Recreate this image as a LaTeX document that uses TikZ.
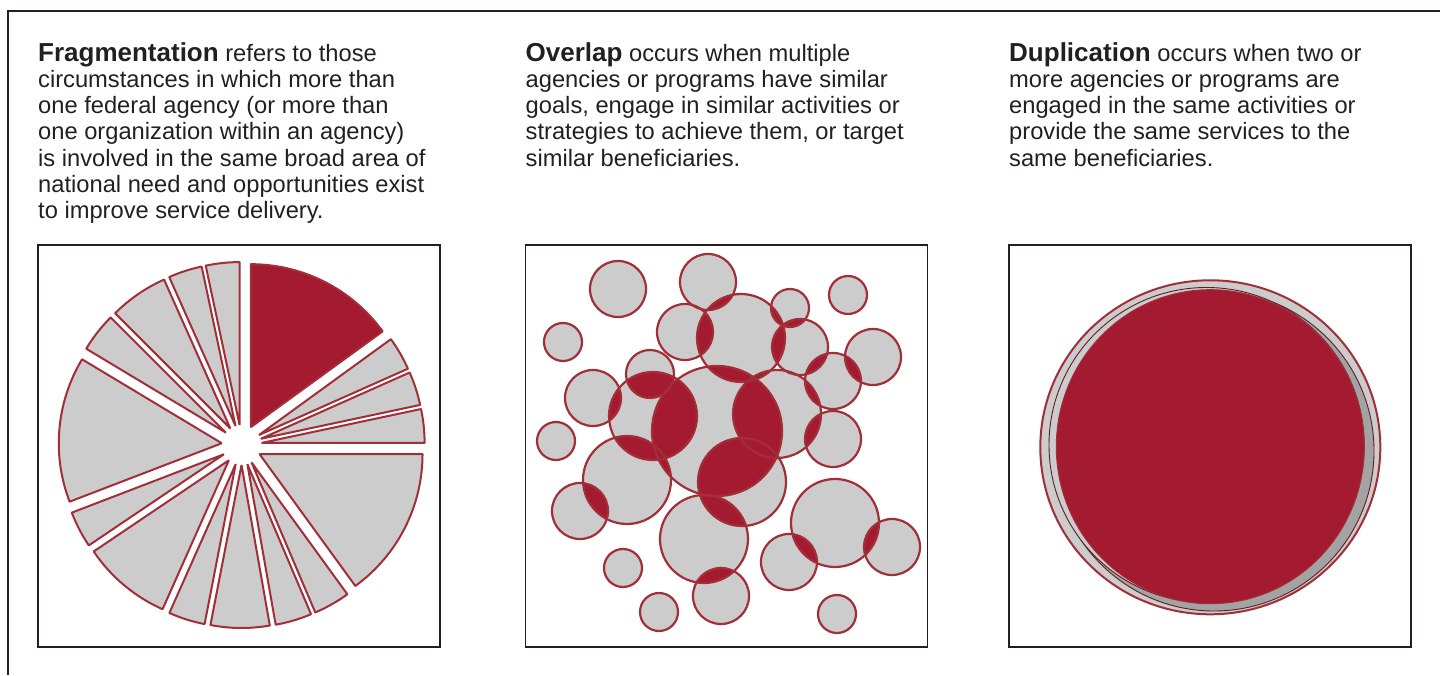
\documentclass[tikz,border=0pt]{standalone}
\usepackage{fontspec}
\setmainfont{Liberation Sans}
\usetikzlibrary{calc, positioning}

\definecolor{gaored}{RGB}{164,26,48}
\definecolor{gaoedge}{RGB}{162,46,56}
\definecolor{slicegrey}{RGB}{204,204,204}
\definecolor{bandgrey}{RGB}{163,163,163}
\definecolor{ink}{RGB}{35,31,32}

\newcommand{\gaoterm}[1]{{\fontsize{26}{26.3}\selectfont\bfseries #1}}

% x/y/radius of the overlapping programs
\def\bubbles{618/386/28, 708/393/28, 848/380/19, 790/367/19, 563/333/19,
  685/343/28, 741/337/44, 800/328/28, 873/318/28, 833/294/28, 650/301/24,
  593/277/28, 653/259/44, 717/244/65, 777/261/44, 833/236/28, 556/234/19,
  627/195/44, 742/193/44, 580/164/28, 704/136/44, 835/152/44, 892/128/28,
  789/113/28, 623/107/19, 721/79/28, 659/63/19, 837/61/19}

\begin{document}
\begin{tikzpicture}[x=1pt,y=1pt,align=left]
\tikzstyle{panel}=[draw=ink,line width=1.3,minimum width=402,minimum height=402,inner sep=0]
\tikzstyle{blurb}=[anchor=north west,inner sep=0,text=ink,font=\fontsize{23.7}{26.3}\selectfont]
\tikzstyle{slice}=[fill=slicegrey,draw=gaoedge,line width=2,line join=bevel]
\tikzstyle{lens}=[fill=gaored]
\tikzstyle{ring}=[draw=gaoedge,line width=2.2]
\tikzstyle{twin}=[draw=gaoedge!60!black,line width=0.9]

\useasboundingbox (0,0) rectangle (1440,675);
\draw[ink,line width=1.5] (1440,664) -- (8,664) -- (8,0);

\node[blurb] (fragtext) at (38,633) {\gaoterm{Fragmentation} refers to those\\
circumstances in which more than\\
one federal agency (or more than\\
one organization within an agency)\\
is involved in the same broad area of\\
national need and opportunities exist\\
to improve service delivery.};
\node[blurb] (overtext) at (525.5,633) {\gaoterm{Overlap} occurs when multiple\\
agencies or programs have similar\\
goals, engage in similar activities or\\
strategies to achieve them, or target\\
similar beneficiaries.};
\node[blurb] (duptext) at (1009,633) {\gaoterm{Duplication} occurs when two or\\
more agencies or programs are\\
engaged in the same activities or\\
provide the same services to the\\
same beneficiaries.};

\node[panel] (fragbox) at (239,229) {};
\node[panel] (overbox) at (726.3,229) {};
\node[panel] (dupbox) at (1210,229) {};

% exploded pie
\coordinate (hub) at (241.7,230);
\foreach \a/\b/\c in {36/90/gaored, 24/36/slicegrey, 12/24/slicegrey, 0/12/slicegrey,
    -54/0/slicegrey, -67/-54/slicegrey, -80/-67/slicegrey, -101/-80/slicegrey,
    -114/-101/slicegrey, -146/-114/slicegrey, -159/-146/slicegrey, 149/201/slicegrey,
    135/149/slicegrey, 114/135/slicegrey, 102/114/slicegrey, 90/102/slicegrey}
  \draw[slice,fill=\c] ($(hub)+({(\a+\b)/2}:20)$) -- ++(\a:163)
    arc[start angle=\a,end angle=\b,radius=163] -- cycle;

% bubbles, their overlaps, then their rims
\foreach \x/\y/\r in \bubbles
  \fill[slicegrey] (\x,\y) circle[radius=\r];
\foreach \x/\y/\r [count=\i] in \bubbles {
  \begin{scope}
    \clip (\x,\y) circle[radius=\r];
    \foreach \u/\v/\s [count=\j] in \bubbles {
      \ifnum\i=\j\else\fill[lens] (\u,\v) circle[radius=\s];\fi
    }
  \end{scope}
}
\foreach \x/\y/\r in \bubbles
  \draw[ring] (\x,\y) circle[radius=\r];

% near-identical circles
\draw[slice] (1210.3,227.7) ellipse[x radius=170,y radius=167];
\draw[twin,fill=bandgrey] (1214,224) circle[radius=160];
\draw[twin,fill=slicegrey] (1206.5,230) circle[radius=157.5];
\draw[fill=gaored,draw=gaoedge,line width=1] (1210.3,228.3) ellipse[x radius=154,y radius=157];
\end{tikzpicture}
\end{document}
